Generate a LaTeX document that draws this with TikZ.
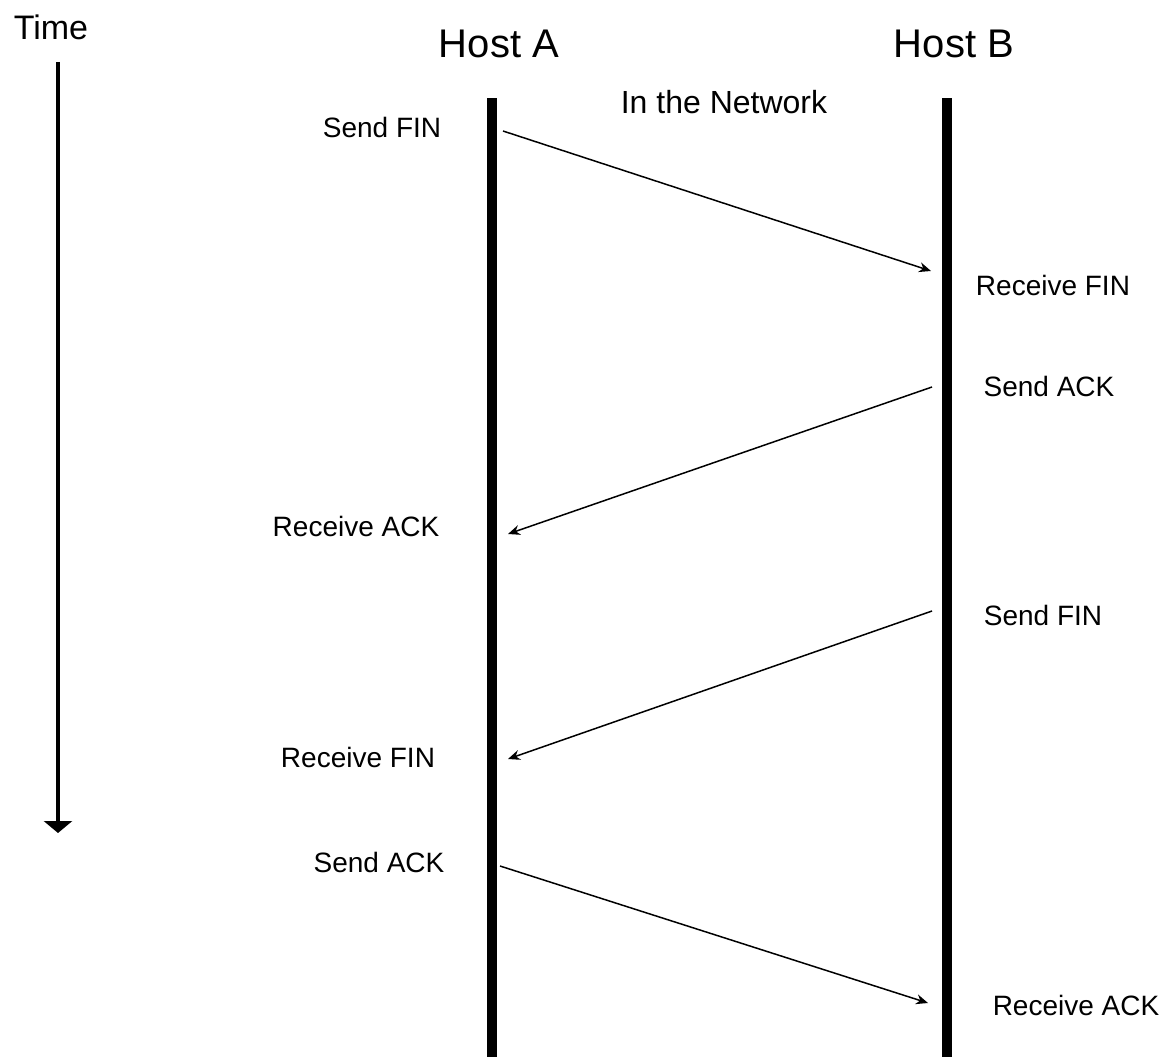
\documentclass[tikz,border=0pt]{standalone}
\usepackage{fontspec}
\setmainfont{Liberation Sans}
\usetikzlibrary{arrows.meta}
\begin{document}
\begin{tikzpicture}[x=1pt,y=-1pt,
  lbl/.style={inner sep=0pt,font=\fontsize{28}{32}\selectfont},
  host/.style={inner sep=0pt,font=\fontsize{40}{46}\selectfont},
  lifeline/.style={line width=10pt},
  msg/.style={line width=1.5pt,-{Stealth[length=12pt,width=10pt]}},
  timearrow/.style={line width=4pt,-{Triangle[length=12pt,width=28pt]}}]
\useasboundingbox (0,0) rectangle (1169,1057);
% titles
\node[inner sep=0pt,font=\fontsize{34}{38}\selectfont] (time) at (51,27) {Time};
\node[host] (hostA) at (499,44) {Host A};
\node[host] (hostB) at (954,44) {Host B};
\node[inner sep=0pt,font=\fontsize{32}{38}\selectfont] (net) at (724,102) {In the Network};
% time arrow
\coordinate (t0) at (58,62);
\coordinate (t1) at (58,833);
\draw[timearrow] (t0) -- (t1);
% lifelines
\coordinate (a0) at (492,98);
\coordinate (a1) at (492,1057);
\coordinate (b0) at (947,98);
\coordinate (b1) at (947,1057);
\draw[lifeline] (a0) -- (a1);
\draw[lifeline] (b0) -- (b1);
% message endpoints
\coordinate (m1s) at (503,131);
\coordinate (m1e) at (931,271);
\coordinate (m2s) at (932,387);
\coordinate (m2e) at (508,534);
\coordinate (m3s) at (932,611);
\coordinate (m3e) at (508,759);
\coordinate (m4s) at (500,866);
\coordinate (m4e) at (928,1003);
\draw[msg] (m1s) -- (m1e);
\draw[msg] (m2s) -- (m2e);
\draw[msg] (m3s) -- (m3e);
\draw[msg] (m4s) -- (m4e);
% labels
\node[lbl] (l1) at (382,127) {Send FIN};
\node[lbl] (l2) at (1053,285) {Receive FIN};
\node[lbl] (l3) at (1049,386) {Send ACK};
\node[lbl] (l4) at (356,526) {Receive ACK};
\node[lbl] (l5) at (1043,615) {Send FIN};
\node[lbl] (l6) at (358,757) {Receive FIN};
\node[lbl] (l7) at (379,862) {Send ACK};
\node[lbl] (l8) at (1076,1005) {Receive ACK};
\end{tikzpicture}
\end{document}
